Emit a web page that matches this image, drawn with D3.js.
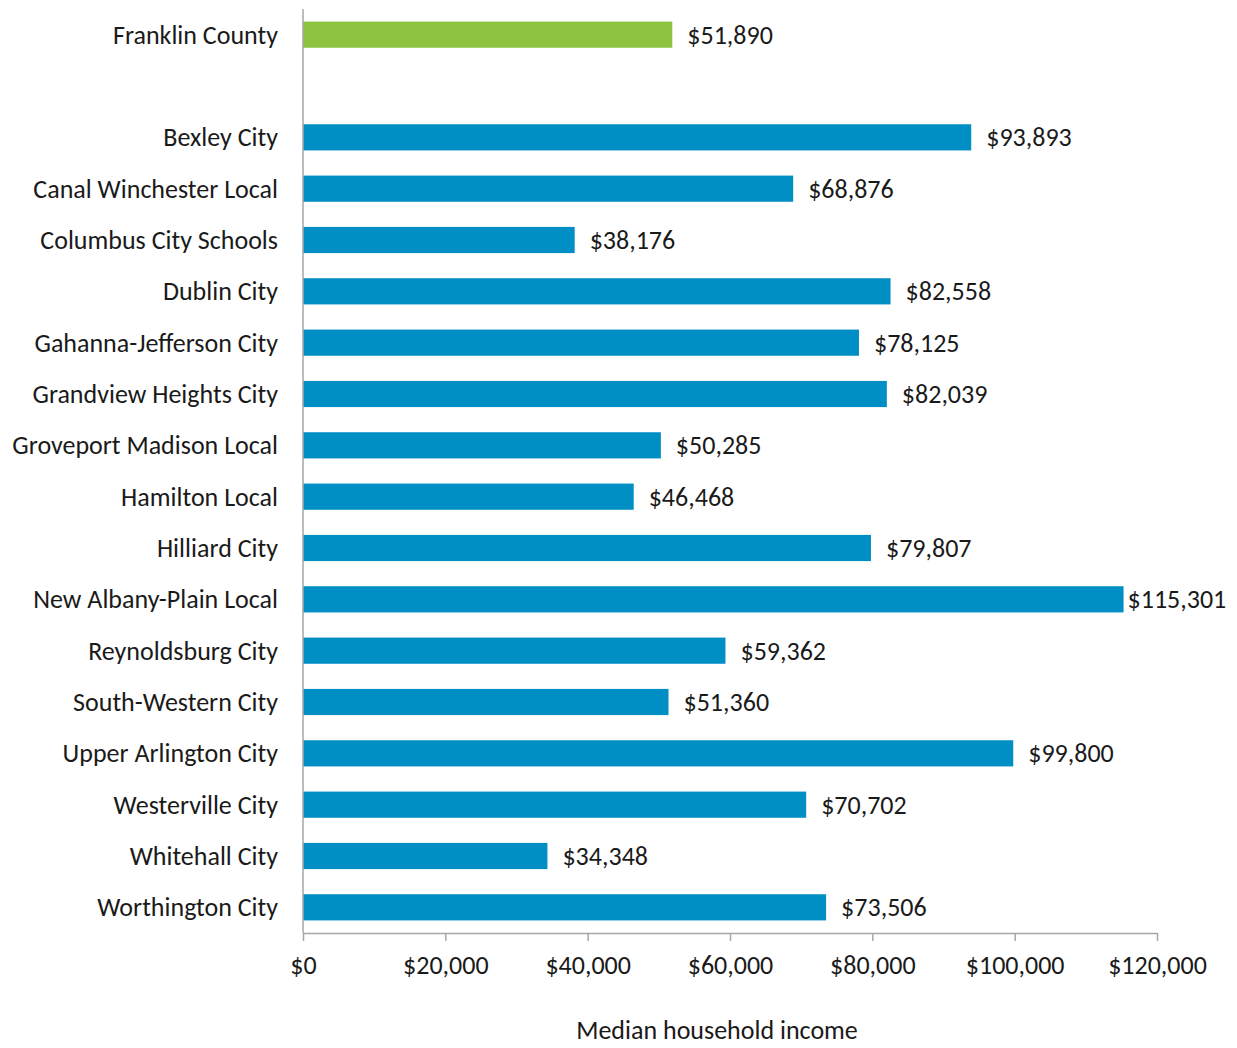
<!DOCTYPE html>
<html>
<head>
<meta charset="utf-8">
<script src="https://cdn.jsdelivr.net/npm/d3@7"></script>
<style>
  body { margin: 0; background: #fff; }
  text { font-family: Carlito, Calibri, "Open Sans", sans-serif; fill: #1a1a1a; }
</style>
</head>
<body>
<div id="chart"></div>
<script>
// districts, in the order shown top to bottom ("" is the gap row)
var districts = ["Franklin County", "",
  "Bexley City", "Canal Winchester Local", "Columbus City Schools", "Dublin City",
  "Gahanna-Jefferson City", "Grandview Heights City", "Groveport Madison Local",
  "Hamilton Local", "Hilliard City", "New Albany-Plain Local", "Reynoldsburg City",
  "South-Western City", "Upper Arlington City", "Westerville City", "Whitehall City",
  "Worthington City"];
var incomes = [51890, null,
  93893, 68876, 38176, 82558,
  78125, 82039, 50285,
  46468, 79807, 115301, 59362,
  51360, 99800, 70702, 34348,
  73506];
var tickValues = [0, 20000, 40000, 60000, 80000, 100000, 120000];
var axisTitle = "Median household income";

var W = 1237, H = 1048;
var fontSize = "26px";
var margin = {top: 9, right: 80, bottom: 115, left: 303};
var width = 1157 - margin.left;
var height = H - margin.top - margin.bottom;

var data = districts.map(function(d, i){ return {name: d, key: d === "" ? "gap" + i : d, value: incomes[i]}; });

var svg = d3.select("#chart").append("svg")
    .attr("width", W)
    .attr("height", H);

var g = svg.append("g")
    .attr("transform", "translate(" + margin.left + "," + margin.top + ")");

var x = d3.scaleLinear().domain([0, 120000]).range([0, width]);
var y = d3.scaleBand()
    .domain(data.map((d) => d.key))
    .range([0, height])
    .paddingInner(0.49)
    .paddingOuter(0.245);

var fmt = d3.format("$,");

// bars
g.selectAll("rect.bar").data(data.filter((d) => d.value != null)).enter().append("rect")
    .attr("class", "bar")
    .attr("x", 0)
    .attr("y", (d) => y(d.key))
    .attr("width", (d) => x(d.value))
    .attr("height", y.bandwidth())
    .attr("fill", (d, i) => i === 0 ? "#8cc43f" : "#008fc5");

// value labels
g.selectAll("text.val").data(data.filter((d) => d.value != null)).enter().append("text")
    .attr("class", "val")
    .attr("x", (d) => x(d.value) + (d.value > 110000 ? 4 : 15))
    .attr("y", (d) => y(d.key) + y.bandwidth() / 2)
    .attr("dy", "0.35em")
    .style("font-size", fontSize)
    .text((d) => fmt(d.value));

// category labels
g.selectAll("text.cat").data(data.filter((d) => d.name !== "")).enter().append("text")
    .attr("class", "cat")
    .attr("x", -25)
    .attr("y", (d) => y(d.key) + y.bandwidth() / 2)
    .attr("dy", "0.35em")
    .attr("text-anchor", "end")
    .style("font-size", fontSize)
    .text((d) => d.name);

// y axis line
g.append("line")
    .attr("x1", 0).attr("x2", 0)
    .attr("y1", 0).attr("y2", height)
    .attr("stroke", "#a6a6a6")
    .attr("stroke-width", 1.5);

// x axis
var xAxis = g.append("g")
    .attr("transform", "translate(0," + height + ")")
    .call(d3.axisBottom(x).tickValues(tickValues).tickFormat(fmt).tickSize(8).tickSizeOuter(0).tickPadding(15));
xAxis.select(".domain").attr("stroke", "#a6a6a6").attr("stroke-width", 1.5);
xAxis.selectAll(".tick line").attr("stroke", "#a6a6a6").attr("stroke-width", 1.5);
xAxis.selectAll(".tick text")
    .attr("fill", "#1a1a1a")
    .style("font-size", fontSize)
    .style("font-family", "Carlito, Calibri, 'Open Sans', sans-serif");

// axis title
svg.append("text")
    .attr("x", 717)
    .attr("y", 1030)
    .attr("dy", "0.35em")
    .attr("text-anchor", "middle")
    .style("font-size", fontSize)
    .text(axisTitle);
</script>
</body>
</html>
